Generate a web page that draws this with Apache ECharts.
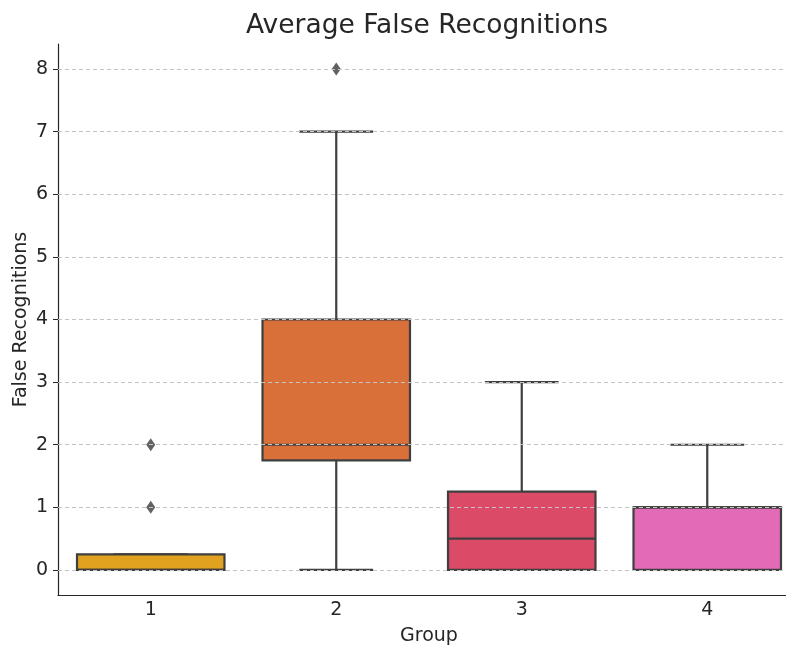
<!DOCTYPE html>
<html><head><meta charset="utf-8">
<script src="https://cdn.jsdelivr.net/npm/echarts@6/dist/echarts.min.js"></script>
<style>html,body{margin:0;padding:0;background:#fff}#c{width:786px;height:645px}</style>
</head><body><div id="c"></div>
<script>
const groups = ['1','2','3','4'];
// [min, Q1, median, Q3, max]
const boxStats = [
  [0, 0, 0, 0.25, 0.25],
  [0, 1.75, 2, 4, 7],
  [0, 0, 0.5, 1.25, 3],
  [0, 0, 1, 1, 2]
];
const outliers = [[0, 1], [0, 2], [1, 8]];
const colors = ['#E1A21F', '#D9703A', '#DB4A67', '#E36AB7'];
const yTicks = [0,1,2,3,4,5,6,7,8];
const FONT = 'DejaVu Sans';
const EDGE = '#3f3f3f';

const chart = echarts.init(document.getElementById('c'), null, {renderer:'canvas'});
chart.setOption({
  animation:false,
  backgroundColor:'#fff',
  title:{text:'Average False Recognitions', left:422, top:8, textAlign:'center',
    textStyle:{fontFamily:FONT, fontSize:26.5, fontWeight:'normal', color:'#262626'}},
  grid:{left:58, right:-14, top:44, bottom:50, containLabel:false, outerBoundsMode:'none'},
  xAxis:{type:'category', data:groups, boundaryGap:true,
    name:'Group', nameLocation:'middle', nameGap:32,
    nameTextStyle:{fontFamily:FONT, fontSize:19, color:'#262626'},
    axisLine:{onZero:false, lineStyle:{color:'#262626', width:1.2}},
    axisTick:{alignWithLabel:true, length:5, lineStyle:{color:'#262626'}},
    axisLabel:{fontFamily:FONT, fontSize:19, color:'#262626', margin:6},
    splitLine:{show:false}},
  yAxis:{type:'value', min:-0.4, max:8.4,
    name:'False Recognitions', nameLocation:'middle', nameGap:27, nameMoveOverlap:false,
    nameTextStyle:{fontFamily:FONT, fontSize:19, color:'#262626'},
    axisLine:{show:true, lineStyle:{color:'#262626', width:1.2}},
    axisTick:{show:true, length:5, customValues:yTicks, lineStyle:{color:'#262626'}},
    axisLabel:{fontFamily:FONT, fontSize:19, color:'#262626', margin:10, customValues:yTicks},
    splitLine:{show:false}},
  series:[
    {type:'line', data:[], silent:true,
     markLine:{symbol:'none', silent:true, label:{show:false},
       lineStyle:{type:[4,3], color:'#c4c4c4', width:1},
       data:yTicks.map(v=>({yAxis:v}))}},
    {type:'custom', data:boxStats.map((s,i)=>[i].concat(s)),
     renderItem:function(params, api){
       const i = api.value(0);
       const band = api.size([1,0])[0];
       const bw = band*0.795, cw = bw/2;
       const cx = api.coord([i, 0])[0];
       const y = k=>api.coord([i, api.value(k)])[1];
       const ymin=y(1), q1=y(2), med=y(3), q3=y(4), ymax=y(5);
       const ls = {stroke:EDGE, lineWidth:2.2};
       const kids = [
         {type:'line', shape:{x1:cx,y1:q3,x2:cx,y2:ymax}, style:ls},
         {type:'line', shape:{x1:cx,y1:q1,x2:cx,y2:ymin}, style:ls},
         {type:'line', shape:{x1:cx-cw/2,y1:ymax,x2:cx+cw/2,y2:ymax}, style:ls},
         {type:'line', shape:{x1:cx-cw/2,y1:ymin,x2:cx+cw/2,y2:ymin}, style:ls},
         {type:'rect', shape:{x:cx-bw/2, y:q3, width:bw, height:q1-q3},
           style:{fill:colors[i], stroke:EDGE, lineWidth:2.2}},
         {type:'line', shape:{x1:cx-bw/2,y1:med,x2:cx+bw/2,y2:med}, style:ls}
       ];
       return {type:'group', children:kids};
     }},
    {type:'scatter', data:outliers, symbol:'diamond', symbolSize:[9,13],
     itemStyle:{color:'#3a3a3a'}}
  ]
});
</script></body></html>
